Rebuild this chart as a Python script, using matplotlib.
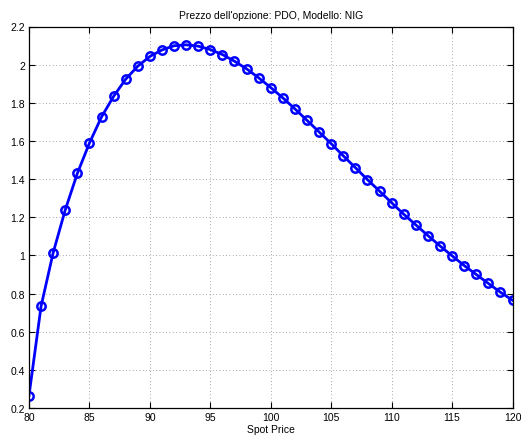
import numpy as np
import matplotlib
matplotlib.use('Agg')
import matplotlib.pyplot as plt

plt.rcParams['font.family'] = ['Liberation Sans', 'DejaVu Sans']

# spot prices and option price
spot = np.arange(80, 121)
price = [0.265, 0.734, 1.014, 1.239, 1.430, 1.589, 1.726, 1.834, 1.924, 1.992,
         2.043, 2.077, 2.099, 2.104, 2.097, 2.079, 2.053, 2.018, 1.978, 1.931,
         1.880, 1.826, 1.768, 1.708, 1.647, 1.586, 1.522, 1.460, 1.397, 1.337,
         1.276, 1.216, 1.160, 1.104, 1.050, 0.998, 0.947, 0.900, 0.853, 0.807,
         0.765]
xticks = [80, 85, 90, 95, 100, 105, 110, 115, 120]
yticks = [0.2, 0.4, 0.6, 0.8, 1, 1.2, 1.4, 1.6, 1.8, 2, 2.2]
ytick_labels = ['0.2', '0.4', '0.6', '0.8', '1', '1.2', '1.4', '1.6', '1.8', '2', '2.2']

fig = plt.figure(figsize=(5.21, 4.39), dpi=100)
ax = fig.add_axes([29/521, 1-409/439, (512.5-29)/521, (409-27.5)/439])

ax.plot(spot, price, '-o', color='#0000ff', lw=2, ms=6, mfc='none', mew=1.8)

ax.set_xlim(80, 120)
ax.set_ylim(0.2, 2.2)
ax.set_xticks(xticks)
ax.set_yticks(yticks)
ax.set_yticklabels(ytick_labels)
ax.tick_params(direction='in', top=True, right=True, labelsize=7.5, length=4, pad=3)
ax.grid(True, linestyle=(0, (1, 3)), color='#888888', lw=0.6)
for s in ax.spines.values():
    s.set_linewidth(0.9)

ax.set_title("Prezzo dell'opzione: PDO, Modello: NIG", fontsize=7.5, pad=6)
ax.set_xlabel('Spot Price', fontsize=7.5, labelpad=1)

fig.savefig('out.png', dpi=100)
